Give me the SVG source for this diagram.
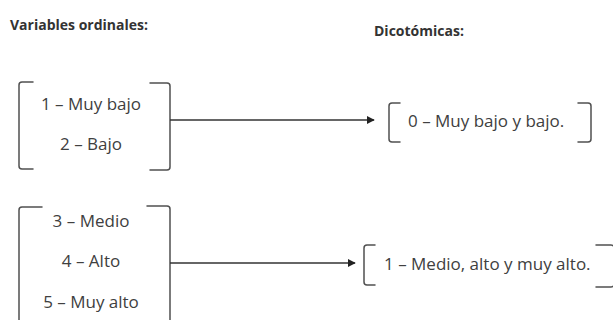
<svg xmlns="http://www.w3.org/2000/svg" width="613" height="320" viewBox="0 0 613 320">
  <defs>
    <style>
      .title { font-family: "Open Sans", "Liberation Sans", sans-serif; font-weight: bold; font-size: 14px; fill: #333; }
      .lbl { font-family: "Open Sans", "Liberation Sans", sans-serif; font-size: 17px; fill: #404040; }
      .br { fill: none; stroke: #505050; stroke-width: 1.5; stroke-linecap: round; }
      .conn { fill: none; stroke: #333; stroke-width: 1.3; }
    </style>
    <marker id="arrow" viewBox="0 0 10 10" refX="9" refY="5" markerWidth="8" markerHeight="8" markerUnits="userSpaceOnUse" orient="auto">
      <path d="M0,0 L10,5 L0,10 z" fill="#222"/>
    </marker>
  </defs>

  <rect width="613" height="320" fill="#fff"/>

  <text class="title" x="10" y="30">Variables ordinales:</text>
  <text class="title" x="374" y="36">Dicotómicas:</text>

  <g id="ordinal-low">
    <path class="br" d="M33,82 L22,82 Q19,82 19,85 L19,166 Q19,169 22,169 L33,169"/>
    <path class="br" d="M150,83 L167,83 Q170,83 170,86 L170,167 Q170,170 167,170 L150,170"/>
    <text class="lbl" x="91" y="110" text-anchor="middle">1 – Muy bajo</text>
    <text class="lbl" x="91" y="150" text-anchor="middle">2 – Bajo</text>
  </g>

  <g id="ordinal-high">
    <path class="br" d="M42,207 L22,207 Q19,207 19,210 L19,322"/>
    <path class="br" d="M147,206 L167,206 Q170,206 170,209 L170,322"/>
    <text class="lbl" x="91" y="227" text-anchor="middle">3 – Medio</text>
    <text class="lbl" x="91" y="267" text-anchor="middle">4 – Alto</text>
    <text class="lbl" x="91" y="308" text-anchor="middle">5 – Muy alto</text>
  </g>

  <g id="dico-0">
    <path class="br" d="M400,103 L392,103 Q389,103 389,106 L389,139 Q389,142 392,142 L400,142"/>
    <path class="br" d="M578,103 L588,103 Q591,103 591,106 L591,139 Q591,142 588,142 L578,142"/>
    <text class="lbl" x="408" y="127">0 – Muy bajo y bajo.</text>
  </g>

  <g id="dico-1">
    <path class="br" d="M375,245 L367,245 Q364,245 364,248 L364,282 Q364,285 367,285 L375,285"/>
    <path class="br" d="M596,245 L611,245 Q614,245 614,248 L614,284 Q614,287 611,287 L596,287"/>
    <text class="lbl" x="384" y="270">1 – Medio, alto y muy alto.</text>
  </g>

  <g id="connectors">
    <line class="conn" x1="170" y1="120" x2="374" y2="120" marker-end="url(#arrow)"/>
    <line class="conn" x1="170" y1="263" x2="355" y2="263" marker-end="url(#arrow)"/>
  </g>
</svg>
